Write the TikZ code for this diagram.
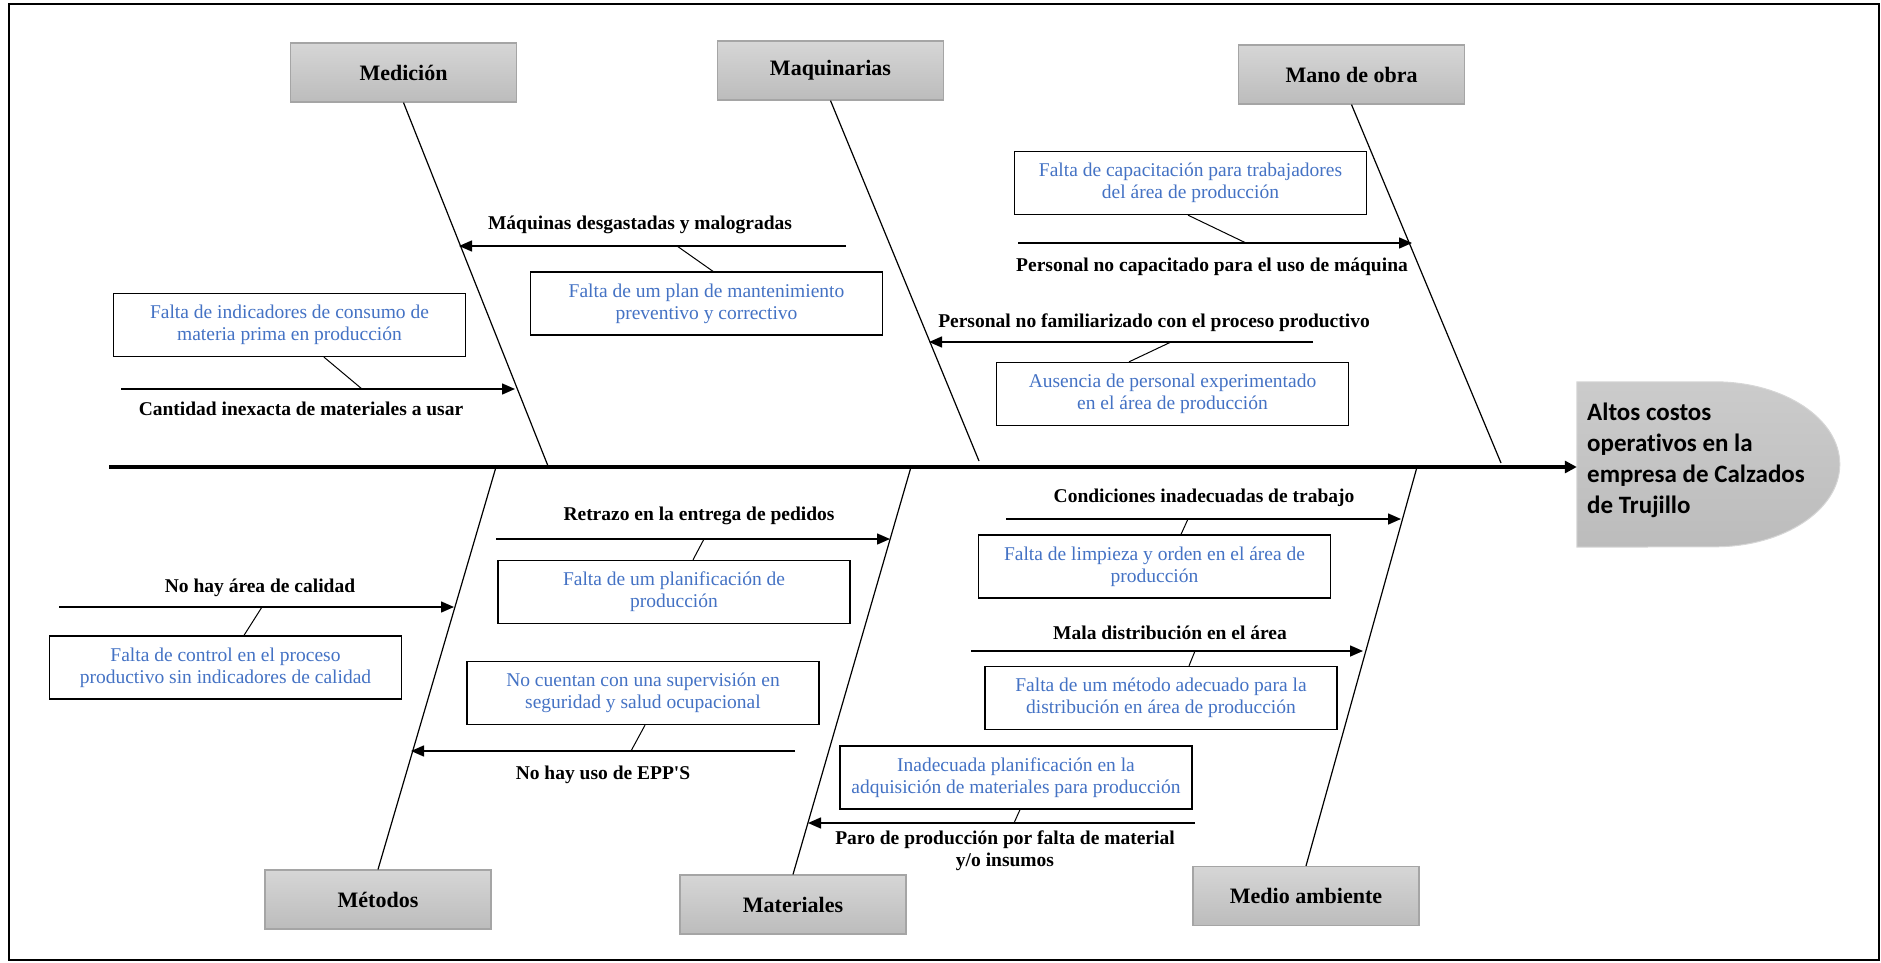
\documentclass[tikz,border=0pt]{standalone}
\usepackage{fontspec}
\setmainfont{Liberation Serif}
\newfontfamily\effectfont[Ligatures=NoCommon]{Carlito}
\usetikzlibrary{arrows.meta}
\definecolor{causeblue}{RGB}{68,114,196}
\definecolor{boxtop}{RGB}{214,214,214}
\definecolor{boxbottom}{RGB}{188,188,188}
\definecolor{boxline}{RGB}{165,165,165}

\begin{document}
\begin{tikzpicture}[x=1pt,y=-1pt,
  catbox/.style={draw=boxline, line width=1.2pt, top color=boxtop, bottom color=boxbottom,
    minimum width=226pt, minimum height=59pt, inner sep=0pt,
    font=\fontsize{22}{26}\selectfont\bfseries},
  causebox/.style={draw, line width=1.3pt, minimum width=352pt, minimum height=63pt,
    inner sep=0pt, align=center, text=causeblue, font=\fontsize{19.5}{22}\selectfont},
  causelabel/.style={inner sep=0pt, align=center, font=\fontsize{19.5}{22}\selectfont\bfseries},
  bone/.style={line width=1.2pt},
  spine/.style={line width=3.5pt, -{Triangle[length=12pt,width=12pt]}},
  subarrow/.style={line width=1.5pt, -{Triangle[length=13pt,width=11pt]}},
  link/.style={line width=1pt}]
\useasboundingbox (0,0) rectangle (1881,963);
\draw[line width=2pt] (9,4) rectangle (1879,960);

% effect
\node[minimum width=263pt, minimum height=165pt, inner sep=0pt] (effect) at (1708.5,464.5) {};
\shadedraw[top color=boxtop!95!black, bottom color=boxbottom, draw=boxtop, line width=1pt]
  (effect.north west) -- ++(138,0)
  arc[start angle=90, end angle=-90, x radius=125pt, y radius=82.5pt]
  -- (effect.south west) -- cycle;
\node[anchor=west, align=left, inner sep=0pt,
  font=\effectfont\bfseries\fontsize{25}{31}\selectfont] (effecttext) at (1587,460)
  {Altos costos\\operativos en la\\empresa de Calzados\\de Trujillo};

% spine
\coordinate (spinestart) at (109,467);
\draw[spine] (spinestart) -- (spinestart -| effect.west);

% categories
\node[catbox] (med) at (403.5,72.5) {Medición};
\node[catbox] (maq) at (830.5,70.5) {Maquinarias};
\node[catbox] (mano) at (1351.5,74.5) {Mano de obra};
\node[catbox] (met) at (378,899.5) {Métodos};
\node[catbox] (mat) at (793,904.5) {Materiales};
\node[catbox] (medio) at (1306,896) {Medio ambiente};

% bones
\coordinate (medend) at (548,466);
\coordinate (maqend) at (979,461);
\coordinate (manoend) at (1501,463);
\coordinate (metend) at (496,467);
\coordinate (matend) at (911,467);
\coordinate (medioend) at (1417,467);
\draw[bone] (med.south) -- (medend);
\draw[bone] (maq.south) -- (maqend);
\draw[bone] (mano.south) -- (manoend);
\draw[bone] (met.north) -- (metend);
\draw[bone] (mat.north) -- (matend);
\draw[bone] (medio.north) -- (medioend);

% Medicion
\node[causebox] (medA) at (289.5,325) {Falta de indicadores de consumo de\\materia prima en producción};
\node[causelabel] (medAlbl) at (301,409) {Cantidad inexacta de materiales a usar};
\coordinate (medAs) at (121,389);
\coordinate (medAe) at (515,389);
\coordinate (medAk) at (362,389);
\draw[subarrow] (medAs) -- (medAe);
\draw[link] ([xshift=34.5pt]medA.south) -- (medAk);

% Maquinarias
\node[causelabel] (maqAlbl) at (640,225) {Máquinas desgastadas y malogradas};
\node[causebox] (maqA) at (706.5,303.5) {Falta de um plan de mantenimiento\\preventivo y correctivo};
\coordinate (maqAs) at (846,246);
\coordinate (maqAe) at (459,246);
\coordinate (maqAk) at (677,246);
\draw[subarrow] (maqAs) -- (maqAe);
\draw[link] (maqAk) -- ([xshift=6.5pt]maqA.north);

% Mano de obra
\node[causebox] (manoA) at (1190.5,183) {Falta de capacitación para trabajadores\\del área de producción};
\node[causelabel] (manoAlbl) at (1212,267) {Personal no capacitado para el uso de máquina};
\coordinate (manoAs) at (1018,243);
\coordinate (manoAe) at (1412,243);
\coordinate (manoAk) at (1246,243);
\draw[subarrow] (manoAs) -- (manoAe);
\draw[link] ([xshift=-2.5pt]manoA.south) -- (manoAk);

\node[causelabel] (manoBlbl) at (1154,323) {Personal no familiarizado con el proceso productivo};
\node[causebox] (manoB) at (1172.5,394) {Ausencia de personal experimentado\\en el área de producción};
\coordinate (manoBs) at (1313,342);
\coordinate (manoBe) at (929,342);
\coordinate (manoBk) at (1171,342);
\draw[subarrow] (manoBs) -- (manoBe);
\draw[link] (manoBk) -- ([xshift=-43.5pt]manoB.north);

% Metodos
\node[causelabel] (metAlbl) at (260,588) {No hay área de calidad};
\node[causebox] (metA) at (225.5,667.5) {Falta de control en el proceso\\productivo sin indicadores de calidad};
\coordinate (metAs) at (59,607);
\coordinate (metAe) at (454,607);
\coordinate (metAk) at (262,607);
\draw[subarrow] (metAs) -- (metAe);
\draw[link] (metAk) -- ([xshift=18.5pt]metA.north);

\node[causebox] (metB) at (643,693) {No cuentan con una supervisión en\\seguridad y salud ocupacional};
\node[causelabel] (metBlbl) at (603,775) {No hay uso de EPP\textquotesingle S};
\coordinate (metBs) at (795,751);
\coordinate (metBe) at (411,751);
\coordinate (metBk) at (631,751);
\draw[subarrow] (metBs) -- (metBe);
\draw[link] ([xshift=2pt]metB.south) -- (metBk);

% Materiales
\node[causelabel] (matAlbl) at (699,516) {Retrazo en la entrega de pedidos};
\node[causebox] (matA) at (674,592) {Falta de um planificación de\\producción};
\coordinate (matAs) at (496,539);
\coordinate (matAe) at (890,539);
\coordinate (matAk) at (704,539);
\draw[subarrow] (matAs) -- (matAe);
\draw[link] (matAk) -- ([xshift=19pt]matA.north);

\node[causebox] (matB) at (1016,777.5) {Inadecuada planificación en la\\adquisición de materiales para producción};
\node[causelabel] (matBlbl) at (1005,851) {Paro de producción por falta de material\\y/o insumos};
\coordinate (matBs) at (1195,823);
\coordinate (matBe) at (808,823);
\coordinate (matBk) at (1014,823);
\draw[subarrow] (matBs) -- (matBe);
\draw[link] ([xshift=4pt]matB.south) -- (matBk);

% Medio ambiente
\node[causelabel] (medioAlbl) at (1204,498) {Condiciones inadecuadas de trabajo};
\node[causebox] (medioA) at (1154.5,566.5) {Falta de limpieza y orden en el área de\\producción};
\coordinate (medioAs) at (1006,519);
\coordinate (medioAe) at (1401,519);
\coordinate (medioAk) at (1188,519);
\draw[subarrow] (medioAs) -- (medioAe);
\draw[link] (medioAk) -- ([xshift=26.5pt]medioA.north);

\node[causelabel] (medioBlbl) at (1170,633) {Mala distribución en el área};
\node[causebox] (medioB) at (1161,698) {Falta de um método adecuado para la\\distribución en área de producción};
\coordinate (medioBs) at (971,651);
\coordinate (medioBe) at (1363,651);
\coordinate (medioBk) at (1195,651);
\draw[subarrow] (medioBs) -- (medioBe);
\draw[link] (medioBk) -- ([xshift=28pt]medioB.north);
\end{tikzpicture}
\end{document}
